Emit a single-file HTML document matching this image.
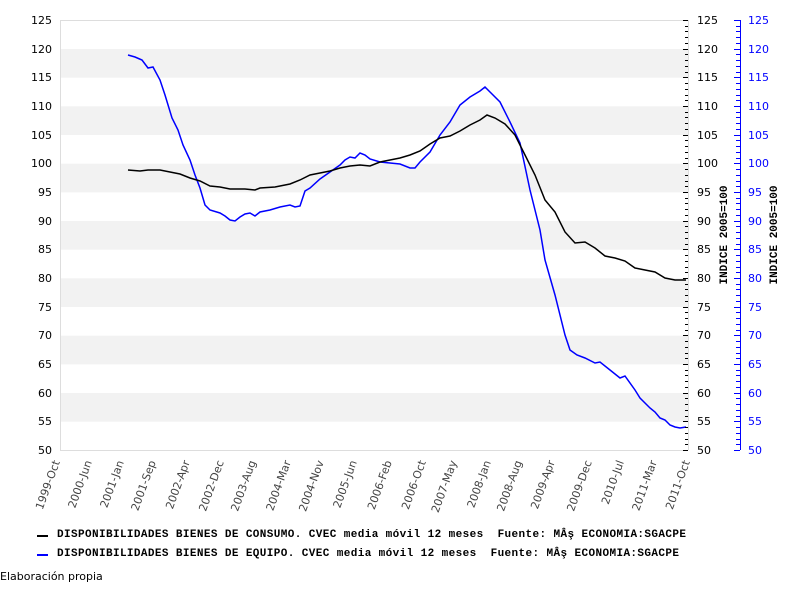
<!DOCTYPE html>
<html><head><meta charset="utf-8"><style>
body{margin:0;background:#fff;width:800px;height:600px;overflow:hidden}
svg{display:block}
.t{font-family:"DejaVu Sans","Liberation Sans",sans-serif;font-size:11px}
.m{font-family:"Liberation Mono","DejaVu Sans Mono",monospace;font-size:11px;font-weight:bold}
</style></head><body>
<svg width="800" height="600" xmlns="http://www.w3.org/2000/svg">
<g fill="#f2f2f2">
<rect x="60" y="49" width="628" height="28.7"/>
<rect x="60" y="106.3" width="628" height="28.7"/>
<rect x="60" y="163.7" width="628" height="28.7"/>
<rect x="60" y="221" width="628" height="28.7"/>
<rect x="60" y="278.3" width="628" height="28.7"/>
<rect x="60" y="335.7" width="628" height="28.7"/>
<rect x="60" y="393" width="628" height="28.7"/>
</g>
<g stroke="#ddd" stroke-width="1">
<line x1="60" y1="20.5" x2="688" y2="20.5"/>
<line x1="60.5" y1="20" x2="60.5" y2="450"/>
<line x1="60" y1="450.5" x2="688" y2="450.5"/>
<line x1="688.5" y1="20" x2="688.5" y2="450"/>
</g>
<line x1="740.5" y1="20" x2="740.5" y2="450" stroke="#00f"/>
<g class="t" fill="#000" text-anchor="end">
<text x="52" y="24">125</text><text x="52" y="53">120</text><text x="52" y="81">115</text><text x="52" y="110">110</text><text x="52" y="139">105</text><text x="52" y="167">100</text><text x="52" y="196">95</text><text x="52" y="225">90</text><text x="52" y="253">85</text><text x="52" y="282">80</text><text x="52" y="311">75</text><text x="52" y="339">70</text><text x="52" y="368">65</text><text x="52" y="397">60</text><text x="52" y="425">55</text><text x="52" y="454">50</text>
</g>
<g class="t" fill="#000">
<text x="697" y="24">125</text><text x="697" y="53">120</text><text x="697" y="81">115</text><text x="697" y="110">110</text><text x="697" y="139">105</text><text x="697" y="167">100</text><text x="697" y="196">95</text><text x="697" y="225">90</text><text x="697" y="253">85</text><text x="697" y="282">80</text><text x="697" y="311">75</text><text x="697" y="339">70</text><text x="697" y="368">65</text><text x="697" y="397">60</text><text x="697" y="425">55</text><text x="697" y="454">50</text>
</g>
<g class="t" fill="#00f">
<text x="748" y="24">125</text><text x="748" y="53">120</text><text x="748" y="81">115</text><text x="748" y="110">110</text><text x="748" y="139">105</text><text x="748" y="167">100</text><text x="748" y="196">95</text><text x="748" y="225">90</text><text x="748" y="253">85</text><text x="748" y="282">80</text><text x="748" y="311">75</text><text x="748" y="339">70</text><text x="748" y="368">65</text><text x="748" y="397">60</text><text x="748" y="425">55</text><text x="748" y="454">50</text>
</g>
<text class="m" transform="translate(727,235) rotate(-90)" text-anchor="middle">INDICE 2005=100</text>
<text class="m" transform="translate(777,235) rotate(-90)" text-anchor="middle">INDICE 2005=100</text>
<g class="t" fill="#444" text-anchor="end">
<text transform="translate(60,462) rotate(-70)">1999-Oct</text>
<text transform="translate(92,462) rotate(-70)">2000-Jun</text>
<text transform="translate(124,462) rotate(-70)">2001-Jan</text>
<text transform="translate(156,462) rotate(-70)">2001-Sep</text>
<text transform="translate(190,462) rotate(-70)">2002-Apr</text>
<text transform="translate(224,462) rotate(-70)">2002-Dec</text>
<text transform="translate(256,462) rotate(-70)">2003-Aug</text>
<text transform="translate(291,462) rotate(-70)">2004-Mar</text>
<text transform="translate(324,462) rotate(-70)">2004-Nov</text>
<text transform="translate(357,462) rotate(-70)">2005-Jun</text>
<text transform="translate(392,462) rotate(-70)">2006-Feb</text>
<text transform="translate(426,462) rotate(-70)">2006-Oct</text>
<text transform="translate(457,462) rotate(-70)">2007-May</text>
<text transform="translate(491,462) rotate(-70)">2008-Jan</text>
<text transform="translate(522,462) rotate(-70)">2008-Aug</text>
<text transform="translate(555,462) rotate(-70)">2009-Apr</text>
<text transform="translate(592,462) rotate(-70)">2009-Dec</text>
<text transform="translate(624,462) rotate(-70)">2010-Jul</text>
<text transform="translate(657,462) rotate(-70)">2011-Mar</text>
<text transform="translate(690,462) rotate(-70)">2011-Oct</text>
</g>
<polyline fill="none" stroke="#00f" stroke-width="1.5" points="128,55 135,57 142,60 148,68 153,67 160,80 165,95 172,118 178,130 183,145 190,160 195,175 200,188 205,205 210,210 220,213 225,216 230,220 235,221 240,217 245,214 250,213 255,216 260,212 270,210 280,207 290,205 295,207 300,206 305,191 310,188 320,179 330,172 340,165 345,160 350,157 355,158 360,153 365,155 370,159 380,162 390,163 400,164 410,168 415,168 420,162 430,152 440,135 450,122 460,105 470,97 480,91 485,87 490,92 500,102 510,122 520,143 530,190 540,230 545,260 555,295 565,335 570,350 577,355 585,358 595,363 600,362 610,370 620,378 625,376 635,390 640,398 650,408 655,412 660,418 665,420 670,425 675,427 680,428 686,427"/>
<polyline fill="none" stroke="#000" stroke-width="1.5" points="128,170 140,171 148,170 160,170 170,172 180,174 190,178 200,181 210,186 220,187 230,189 245,189 255,190 260,188 275,187 290,184 300,180 310,175 320,173 330,171 340,168 350,166 360,165 370,166 380,162 390,160 400,158 410,155 420,151 430,144 440,138 450,136 460,131 470,125 480,120 487,115 495,118 505,124 515,135 525,155 535,175 545,200 555,212 565,232 575,243 585,242 595,248 605,256 615,258 625,261 635,268 645,270 655,272 665,278 675,280 686,280"/>
<line x1="37" y1="536" x2="48" y2="536" stroke="#000" stroke-width="2"/>
<line x1="37" y1="555" x2="48" y2="555" stroke="#00f" stroke-width="2"/>
<text class="m" x="57" y="537" textLength="629" lengthAdjust="spacing" xml:space="preserve">DISPONIBILIDADES BIENES DE CONSUMO. CVEC media móvil 12 meses  Fuente: MÂş ECONOMIA:SGACPE</text>
<text class="m" x="57" y="556" textLength="622" lengthAdjust="spacing" xml:space="preserve">DISPONIBILIDADES BIENES DE EQUIPO. CVEC media móvil 12 meses  Fuente: MÂş ECONOMIA:SGACPE</text>
<text class="t" x="0" y="580" fill="#000">Elaboración propia</text>
<path id="ticks" fill="none" stroke="#000" stroke-width="1" d=""/>
<path id="bticks" fill="none" stroke="#00f" stroke-width="1" d=""/>
</svg>
<script>
var d="",b="";
for(var i=0;i<=75;i++){var y=20+i*430/75;y=Math.round(y)+0.5;var big=i%5==0;
d+="M"+(big?683:685)+" "+y+"H688";b+="M"+(big?734:736)+" "+y+"H740";}
document.getElementById("ticks").setAttribute("d",d);
document.getElementById("bticks").setAttribute("d",b);
</script>
</body></html>
